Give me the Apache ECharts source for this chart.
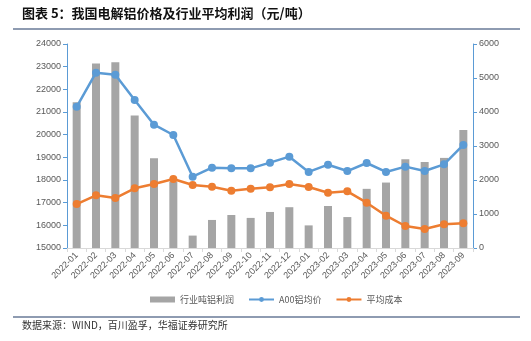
<!DOCTYPE html>
<html><head><meta charset="utf-8">
<script src="https://cdn.jsdelivr.net/npm/echarts@6/dist/echarts.min.js"></script>
<style>html,body{margin:0;padding:0;background:#fff;}#c{width:531px;height:341px;}</style>
</head><body><div id="c"></div>
<script>
const categories = ['2022-01','2022-02','2022-03','2022-04','2022-05','2022-06','2022-07','2022-08','2022-09','2022-10','2022-11','2022-12','2023-01','2023-02','2023-03','2023-04','2023-05','2023-06','2023-07','2023-08','2023-09'];
const profit = [4290,5430,5460,3900,2640,1950,365,825,970,885,1060,1200,665,1235,910,1740,1925,2610,2530,2650,3470];
const price = [21230,22735,22645,21530,20440,19985,18145,18545,18515,18515,18765,19030,18355,18675,18395,18750,18355,18590,18395,18690,19545];
const cost = [16940,17325,17205,17635,17825,18045,17780,17705,17530,17610,17680,17825,17690,17440,17500,17000,16425,15970,15840,16045,16090];
const leftTicks = {min:15000, max:24000, interval:1000};
const rightTicks = {min:0, max:6000, interval:1000};
const names = ['行业吨铝利润','A00铝均价','平均成本'];

const chart = echarts.init(document.getElementById('c'), null, {renderer:'canvas'});
const lab = {color:'#595959', fontSize:9, fontFamily:'Liberation Sans, Arial, sans-serif'};
const plain = v => String(v);
chart.setOption({
  animation:false,
  backgroundColor:'#fff',
  grid:{left:67, right:58, top:44, bottom:93, containLabel:false},
  graphic:[
    {type:'text', left:22, top:7, style:{text:'图表 5：我国电解铝价格及行业平均利润（元/吨）', font:'bold 13px "Noto Sans CJK SC", sans-serif', fill:'#111'}},
    {type:'line', shape:{x1:13,y1:29,x2:520,y2:29}, style:{stroke:'#1F3864', lineWidth:1.2}},
    {type:'line', shape:{x1:13,y1:317,x2:520,y2:317}, style:{stroke:'#1F3864', lineWidth:1.2}},
    {type:'text', left:22, top:320, style:{text:'数据来源：WIND，百川盈孚，华福证券研究所', font:'10px "Noto Sans CJK SC", sans-serif', fill:'#333'}}
  ],
  legend:{
    left:145, top:290, itemWidth:25, itemHeight:6, itemGap:14,
    textStyle:{color:'#595959', fontSize:9, fontFamily:'"Noto Sans CJK SC", sans-serif'},
    data:[{name:names[0], icon:'rect'}, {name:names[1]}, {name:names[2]}]
  },
  xAxis:{
    type:'category', data:categories, boundaryGap:true,
    axisLine:{lineStyle:{color:'#D9D9D9'}},
    axisTick:{show:true, alignWithLabel:false, length:4, lineStyle:{color:'#D9D9D9'}},
    axisLabel:Object.assign({rotate:45, interval:0, margin:6}, lab)
  },
  yAxis:[
    {type:'value', min:leftTicks.min, max:leftTicks.max, interval:leftTicks.interval,
     axisLine:{show:true, lineStyle:{color:'#5B9BD5'}},
     axisTick:{show:true, length:4, lineStyle:{color:'#5B9BD5'}},
     splitLine:{show:false}, axisLabel:Object.assign({margin:6, formatter:plain}, lab)},
    {type:'value', min:rightTicks.min, max:rightTicks.max, interval:rightTicks.interval, position:'right',
     axisLine:{show:true, lineStyle:{color:'#5B9BD5'}},
     axisTick:{show:true, length:4, lineStyle:{color:'#5B9BD5'}},
     splitLine:{show:false}, axisLabel:Object.assign({margin:6, formatter:plain}, lab)}
  ],
  series:[
    {name:names[0], type:'bar', yAxisIndex:1, data:profit, barWidth:8, itemStyle:{color:'#A5A5A5'}},
    {name:names[1], type:'line', yAxisIndex:0, data:price, symbol:'circle', symbolSize:8,
     lineStyle:{color:'#5B9BD5', width:2.5}, itemStyle:{color:'#5B9BD5'}},
    {name:names[2], type:'line', yAxisIndex:0, data:cost, symbol:'circle', symbolSize:8,
     lineStyle:{color:'#ED7D31', width:2.5}, itemStyle:{color:'#ED7D31'}}
  ]
});
</script></body></html>
